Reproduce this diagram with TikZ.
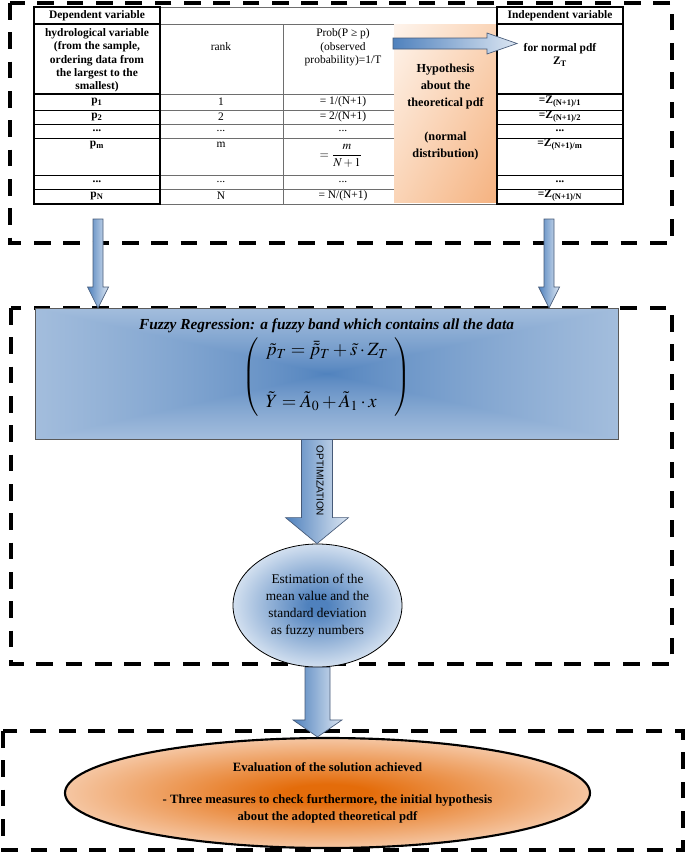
\documentclass[tikz,border=0pt]{standalone}
\usepackage{mathptmx}
\usepackage{amsmath}
\usepackage{fontspec}
\setmainfont{Liberation Serif}[
  BoldFont={Liberation Serif Bold},
  ItalicFont={Liberation Serif Italic},
  BoldItalicFont={Liberation Serif Bold Italic}]
\setsansfont{Liberation Sans}
\usetikzlibrary{calc}
\usetikzlibrary{shapes.geometric}
\usetikzlibrary{shadings}

\definecolor{arrowdark}{RGB}{79,129,189}
\definecolor{arrowlight}{RGB}{220,230,242}
\definecolor{arrowedge}{RGB}{70,90,120}
\definecolor{blueshade}{RGB}{79,129,189}
\definecolor{bluepale}{RGB}{222,232,244}
\definecolor{orangedeep}{RGB}{228,108,10}
\definecolor{orangepale}{RGB}{251,228,213}
\definecolor{peachlight}{RGB}{254,244,236}
\definecolor{peachmid}{RGB}{250,212,182}
\definecolor{peachdeep}{RGB}{245,178,128}
\definecolor{gridgray}{RGB}{110,110,110}

% shadings
\pgfdeclareradialshading{estimshade}{\pgfpoint{0bp}{0bp}}{color(0bp)=(blueshade); color(3bp)=(blueshade); color(27bp)=(bluepale); color(50bp)=(bluepale)}
\pgfdeclareradialshading{evalshade}{\pgfpoint{0bp}{0bp}}{color(0bp)=(orangedeep); color(4bp)=(orangedeep); color(32bp)=(orangepale); color(50bp)=(orangepale)}
\pgfdeclarefunctionalshading{bowtie}{\pgfpoint{-50bp}{-50bp}}{\pgfpoint{50bp}{50bp}}{}{
  abs exch abs 2 copy sub abs add add 2 div 50 div 0.75 exp
  dup 0.553 mul 0.310 add exch
  dup 0.396 mul 0.506 add exch
  0.208 mul 0.741 add
}

% block arrows: start, tip, shaft half width, head half width, head length (px)
\newcommand{\blockdown}[5]{%
  \path[arrowblock] let \p1=(#1), \p2=(#2) in
    (\x1-#3*0.75pt,\y1) -- (\x1+#3*0.75pt,\y1) -- (\x1+#3*0.75pt,\y2+#5*0.75pt)
    -- (\x1+#4*0.75pt,\y2+#5*0.75pt) -- (\x1,\y2) -- (\x1-#4*0.75pt,\y2+#5*0.75pt)
    -- (\x1-#3*0.75pt,\y2+#5*0.75pt) -- cycle;}
\newcommand{\blockright}[5]{%
  \path[arrowblock] let \p1=(#1), \p2=(#2) in
    (\x1,\y1+#3*0.75pt) -- (\x2-#5*0.75pt,\y1+#3*0.75pt) -- (\x2-#5*0.75pt,\y1+#4*0.75pt)
    -- (\x2,\y1) -- (\x2-#5*0.75pt,\y1-#4*0.75pt) -- (\x2-#5*0.75pt,\y1-#3*0.75pt)
    -- (\x1,\y1-#3*0.75pt) -- cycle;}

\begin{document}
\begin{tikzpicture}[x=0.75pt,y=-0.75pt,
	tabbold/.style={font=\fontsize{8.6}{10}\selectfont\bfseries, align=center, inner sep=0pt},
	tabtext/.style={font=\fontsize{8.6}{10}\selectfont, align=center, inner sep=0pt},
	hypotext/.style={font=\fontsize{9.2}{12.75}\selectfont\bfseries, align=center, inner sep=0pt},
	thickcell/.style={draw, line width=2pt},
	thinrule/.style={draw=gridgray, line width=0.5pt},
	dashbox/.style={draw, line width=2.4pt, dash pattern=on 12.5pt off 9.5pt},
	arrowblock/.style={draw=arrowedge, line width=0.5pt, left color=arrowdark, right color=arrowlight},
	fuzzytitle/.style={font=\fontsize{11.5}{13}\selectfont\bfseries\itshape, inner sep=0pt},
	eqtext/.style={font=\fontsize{14}{17}\selectfont, inner sep=0pt},
	opttext/.style={font=\fontsize{7.5}{8}\selectfont\sffamily, inner sep=0pt},
	estimnode/.style={ellipse, draw, line width=0.6pt, shade, shading=estimshade,
		minimum width=126.75pt, minimum height=92.25pt, inner sep=0pt, align=center,
		font=\fontsize{10}{12.75}\selectfont},
	evalnode/.style={ellipse, draw, line width=1.6pt, shade, shading=evalshade,
		minimum width=393.75pt, minimum height=82.5pt, inner sep=0pt, align=center,
		font=\fontsize{9.5}{12.75}\selectfont\bfseries}]
	
	\useasboundingbox (0,0) rectangle (685,853);
	
	% dashed frames
	\draw[dashbox] (10,3) rectangle (672,243);
	\draw[dashbox] (11,308) rectangle (672,664);
	\draw[dashbox] (3,731) rectangle (683,850);
	
	% table grid
	\draw[thinrule] (160,7) -- (497,7);
	\foreach \y in {24,94,110,124,138,175,189,204}
		\draw[thinrule] (160,\y) -- (497,\y);
	\draw[thinrule] (283,24) -- (283,204);
	
	% hypothesis box
	\shade[upper left=peachlight, upper right=peachmid, lower left=peachmid, lower right=peachdeep] (394,24) rectangle (497,202);
	
	% dependent and independent columns
	\foreach \xl/\xr in {34/160, 497/623}{
		\foreach \y in {110,124,138,175,189}
			\draw[line width=0.6pt] (\xl,\y) -- (\xr,\y);
		\draw[thickcell] (\xl,7) rectangle (\xr,24);
		\draw[thickcell] (\xl,24) rectangle (\xr,94);
		\draw[thickcell] (\xl,94) rectangle (\xr,204);
	}
	
	% headers
	\node[tabbold] (deptitle) at (97,16) {Dependent variable};
	\node[tabbold] (dephead) at (97,60.5) {hydrological variable\\(from the sample,\\ordering data from\\the largest to the\\smallest)};
	\node[tabtext] (rankhead) at (221,47) {rank};
	\node[tabtext] (probhead) at (343,47.5) {Prob(P ≥ p)\\(observed\\probability)=1/T};
	\node[tabbold] (indtitle) at (560,16) {Independent variable};
	\node[tabbold] (indhead) at (560,54.5) {for normal pdf\\Z\textsubscript{T}};
	\node[hypotext] (hypo) at (445.5,112.5) {Hypothesis\\about the\\theoretical pdf\\ \\(normal\\distribution)};
	
	% rows
	\node[tabbold] (p1) at (97,102) {p\textsubscript{1}};
	\node[tabbold] (p2) at (97,117) {p\textsubscript{2}};
	\node[tabbold] (pdots) at (97,131) {...};
	\node[tabbold] (pm) at (97,145) {p\textsubscript{m}};
	\node[tabbold] (pdots2) at (97,182) {...};
	\node[tabbold] (pN) at (97,196) {p\textsubscript{N}};
	
	\node[tabtext] (r1) at (221,102) {1};
	\node[tabtext] (r2) at (221,117) {2};
	\node[tabtext] (rdots) at (221,131) {...};
	\node[tabtext] (rm) at (221,145) {m};
	\node[tabtext] (rdots2) at (221,182) {...};
	\node[tabtext] (rN) at (221,196) {N};
	
	\node[tabtext] (q1) at (343,102) {= 1/(N+1)};
	\node[tabtext] (q2) at (343,117) {= 2/(N+1)};
	\node[tabtext] (qdots) at (343,131) {...};
	\node[tabtext, font=\fontsize{9}{10}\selectfont] (qm) at (341,156) {$=\dfrac{m}{N+1}$};
	\node[tabtext] (qdots2) at (343,182) {...};
	\node[tabtext] (qN) at (343,196) {= N/(N+1)};
	
	\node[tabbold] (z1) at (560,102) {=Z\textsubscript{(N+1)/1}};
	\node[tabbold] (z2) at (560,117) {=Z\textsubscript{(N+1)/2}};
	\node[tabbold] (zdots) at (560,131) {...};
	\node[tabbold] (zm) at (560,145) {=Z\textsubscript{(N+1)/m}};
	\node[tabbold] (zdots2) at (560,182) {...};
	\node[tabbold] (zN) at (560,196) {=Z\textsubscript{(N+1)/N}};
	
	% arrow towards the independent variable
	\coordinate (hyp-w) at (393,43.5);
	\coordinate (ind-w) at (517,43.5);
	\blockright{hyp-w}{ind-w}{5.5}{10.5}{30}
	
	% fuzzy regression
	\shadedraw[shading=bowtie, draw=gray!70!black, line width=0.6pt] (35,308) rectangle (618,439);
	\node[fuzzytitle] (fuzzy) at (326.5,326) {Fuzzy Regression: a fuzzy band which contains all the data};
	\node[eqtext] (fuzzyeq) at (327,377) {$\left(\begin{array}{l}
		\tilde{p}_T = \bar{\tilde{p}}_T + \tilde{s}\cdot Z_T\\[22pt]
		\tilde{Y} = \tilde{A}_0 + \tilde{A}_1\cdot x
		\end{array}\right)$};
	
	% arrows down from the table
	\coordinate (depfoot) at (98,219);
	\coordinate (indfoot) at (549,219);
	\coordinate (fuzzyin-l) at (98,308);
	\coordinate (fuzzyin-r) at (549,308);
	\blockdown{depfoot}{fuzzyin-l}{5}{10.5}{21}
	\blockdown{indfoot}{fuzzyin-r}{5}{10.5}{21}
	
	% estimation
	\node[estimnode] (estim) at (317.5,605.5) {Estimation of the\\mean value and the\\standard deviation\\as fuzzy numbers};
	\coordinate (fuzzyout) at (317,439.5);
	\blockdown{fuzzyout}{estim.north}{15.5}{31.5}{26}
	\node[opttext, rotate=-90] (optim) at (320,481) {OPTIMIZATION};
	
	% evaluation
	\node[evalnode] (evalu) at (327.5,793) {Evaluation of the solution achieved\\[11.25pt]- Three measures to check furthermore, the initial hypothesis\\about the adopted theoretical pdf};
	\blockdown{estim.south}{evalu.north}{12.5}{24.5}{17}
	
\end{tikzpicture}
\end{document}
